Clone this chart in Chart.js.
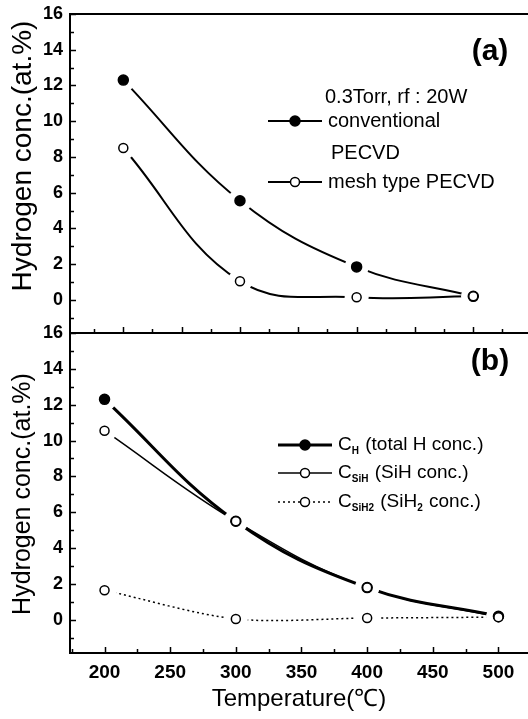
<!DOCTYPE html>
<html lang="en">
<head>
<meta charset="UTF-8">
<title>Hydrogen concentration vs temperature</title>
<script src="https://cdn.jsdelivr.net/npm/chart.js"></script>
<style>
  body { margin: 0; background: #fff; overflow: hidden; }
  #wrap { position: relative; width: 528px; height: 719px; }
  #wrap canvas { position: absolute; left: 0; top: 0; }
</style>
</head>
<body>
<div id="wrap">
  <canvas id="chartA" width="528" height="719"></canvas>
  <canvas id="chartB" width="528" height="719"></canvas>
</div>
<script>
// panel (a): conventional vs mesh type PECVD
const tempsA = [200, 300, 400, 500];
const conventional = [12.3, 5.55, 1.85, 0.2];
const meshType = [8.5, 1.05, 0.15, 0.2];

// panel (b): total H, SiH and SiH2 concentrations
const tempsB = [200, 300, 400, 500];
const cTotal = [12.3, 5.5, 1.8, 0.2];
const cSiH = [10.55, 5.5, 1.8, 0.15];
const cSiH2 = [1.65, 0.05, 0.1, 0.15];

const yTickLabels = [0, 2, 4, 6, 8, 10, 12, 14, 16];
const xTickLabels = [200, 250, 300, 350, 400, 450, 500];

const FONT = "'Liberation Sans', Arial, Helvetica, sans-serif";
Chart.defaults.font.family = FONT;
Chart.defaults.color = '#000';

// line + white halo (gap round the marker) + marker
function series(xs, ys, line, marker) {
  const pts = xs.map((x, i) => ({ x: x, y: ys[i] }));
  return [
    Object.assign({ data: pts, pointRadius: 0, borderColor: '#000', borderWidth: 2, tension: 0.4, fill: false, order: 3 }, line),
    { data: pts, showLine: false, pointRadius: 12, pointBackgroundColor: '#fff', pointBorderColor: '#fff', pointBorderWidth: 0, order: 2 },
    Object.assign({ data: pts, showLine: false, pointRadius: 5, pointBorderColor: '#000', pointBorderWidth: 1.5, order: 1 }, marker)
  ];
}
const filled = { pointBackgroundColor: '#000' };
const open = { pointBackgroundColor: '#fff', pointRadius: 4.5 };

// inward ticks, top border, y title, panel letter
const frame = {
  id: 'frame',
  afterDraw(chart, args, o) {
    const { ctx, chartArea: a, scales: { x, y } } = chart;
    ctx.save();
    ctx.strokeStyle = '#000';
    ctx.lineWidth = 1.5;
    ctx.beginPath();
    for (let v = Math.ceil(y.min); v <= y.max; v++) {
      const py = Math.round(y.getPixelForValue(v)) + 0.5;
      ctx.moveTo(a.left, py);
      ctx.lineTo(a.left + (v % 2 === 0 ? 6 : 4), py);
    }
    for (let v = 175; v <= x.max; v += 25) {
      const px = Math.round(x.getPixelForValue(v)) + 0.5;
      ctx.moveTo(px, a.bottom);
      ctx.lineTo(px, a.bottom - (v % 50 === 0 ? 6 : 4));
    }
    ctx.stroke();
    if (o.topBorder) {
      ctx.lineWidth = 2;
      ctx.beginPath();
      ctx.moveTo(a.left, a.top);
      ctx.lineTo(a.right, a.top);
      ctx.stroke();
    }
    ctx.fillStyle = '#000';
    ctx.translate(o.titleX, o.titleY);
    ctx.rotate(-Math.PI / 2);
    ctx.textAlign = 'center';
    ctx.textBaseline = 'middle';
    ctx.font = o.titleSize + 'px ' + FONT;
    ctx.fillText('Hydrogen conc.(at.%)', 0, 0);
    ctx.setTransform(1, 0, 0, 1, 0, 0);
    ctx.font = 'bold 30px ' + FONT;
    ctx.fillText(o.letter, 490, o.letterY);
    ctx.restore();
  }
};

function legendSymbol(ctx, x0, x1, y, width, dash, fill) {
  ctx.save();
  ctx.lineWidth = width;
  ctx.setLineDash(dash);
  ctx.beginPath();
  ctx.moveTo(x0, y);
  ctx.lineTo(x1, y);
  ctx.stroke();
  ctx.setLineDash([]);
  ctx.lineWidth = 1.5;
  ctx.beginPath();
  ctx.arc((x0 + x1) / 2, y, fill ? 5 : 4.5, 0, Math.PI * 2);
  ctx.fillStyle = fill ? '#000' : '#fff';
  ctx.fill();
  ctx.stroke();
  ctx.restore();
}

// text with subscripts: parts = [[text, isSub], ...]
function subText(ctx, x, y, parts, size) {
  parts.forEach(p => {
    ctx.font = (p[1] ? 'bold ' + Math.round(size * 0.55) : size) + 'px ' + FONT;
    ctx.fillText(p[0], x, p[1] ? y + 6 : y);
    x += ctx.measureText(p[0]).width + (p[1] ? 1 : 0);
  });
}

const legendA = {
  id: 'legendA',
  afterDraw(chart) {
    const ctx = chart.ctx;
    ctx.save();
    ctx.fillStyle = '#000';
    ctx.strokeStyle = '#000';
    ctx.textAlign = 'left';
    ctx.textBaseline = 'middle';
    ctx.font = '20px ' + FONT;
    ctx.fillText('0.3Torr, rf : 20W', 325, 97);
    legendSymbol(ctx, 268, 322, 121, 2, [], true);
    ctx.fillText('conventional', 328, 121);
    ctx.fillText('PECVD', 331, 153);
    legendSymbol(ctx, 268, 322, 182, 2, [], false);
    ctx.fillText('mesh type PECVD', 328, 182);
    ctx.restore();
  }
};

const legendB = {
  id: 'legendB',
  afterDraw(chart) {
    const ctx = chart.ctx;
    ctx.save();
    ctx.fillStyle = '#000';
    ctx.strokeStyle = '#000';
    ctx.textAlign = 'left';
    ctx.textBaseline = 'middle';
    legendSymbol(ctx, 278, 332, 445, 3, [], true);
    subText(ctx, 338, 445, [['C', false], ['H', true], [' (total H conc.)', false]], 19);
    legendSymbol(ctx, 278, 332, 473, 1.5, [], false);
    subText(ctx, 338, 473, [['C', false], ['SiH', true], [' (SiH conc.)', false]], 19);
    legendSymbol(ctx, 278, 332, 502, 1.5, [2, 3], false);
    subText(ctx, 338, 502, [['C', false], ['SiH2', true], [' (SiH', false], ['2', true], [' conc.)', false]], 19);
    ctx.restore();
  }
};

function yScale(labels) {
  return {
    min: -1.85, max: 16,
    afterFit: s => { s.width = 70; s.paddingTop = 0; s.paddingBottom = 0; },
    afterBuildTicks: s => { s.ticks = labels.map(v => ({ value: v })); },
    grid: { display: false, drawTicks: false },
    border: { display: true, color: '#000', width: 2 },
    ticks: { padding: 7, font: { size: 18, weight: 'bold' } }
  };
}

new Chart(document.getElementById('chartA'), {
  type: 'line',
  data: {
    datasets: [].concat(
      series(tempsA, conventional, {}, filled),
      series(tempsA, meshType, {}, Object.assign({ order: 0 }, open))
    )
  },
  options: {
    responsive: false,
    animation: false,
    events: [],
    layout: { autoPadding: false, padding: { top: 14, bottom: 386, left: 0, right: 0 } },
    scales: {
      x: {
        type: 'linear', min: 154.3, max: 546.9,
        afterFit: s => { s.height = 0; s.paddingLeft = 0; s.paddingRight = 0; },
        grid: { display: false, drawTicks: false },
        border: { display: true, color: '#000', width: 2 },
        ticks: { display: false }
      },
      y: yScale(yTickLabels)
    },
    plugins: {
      legend: { display: false },
      tooltip: { enabled: false },
      frame: { topBorder: true, titleX: 23, titleY: 156, titleSize: 28, letter: '(a)', letterY: 52 }
    }
  },
  plugins: [frame, legendA]
});

new Chart(document.getElementById('chartB'), {
  type: 'line',
  data: {
    datasets: [].concat(
      series(tempsB, cTotal, { borderWidth: 3, order: 4 }, Object.assign({ order: 1 }, filled)),
      series(tempsB, cSiH, { borderWidth: 1.5 }, Object.assign({ order: 0 }, open)),
      series(tempsB, cSiH2, { borderWidth: 1.5, borderDash: [2, 3], tension: 0.3 }, Object.assign({ order: 0 }, open))
    )
  },
  options: {
    responsive: false,
    animation: false,
    events: [],
    layout: { autoPadding: false, padding: { top: 333, bottom: 0, left: 0, right: 0 } },
    scales: {
      x: {
        type: 'linear', min: 173.7, max: 522.5,
        afterFit: s => { s.height = 66; s.paddingLeft = 0; s.paddingRight = 0; },
        afterBuildTicks: s => { s.ticks = xTickLabels.map(v => ({ value: v })); },
        grid: { display: false, drawTicks: false },
        border: { display: true, color: '#000', width: 2 },
        ticks: { padding: 8, maxRotation: 0, font: { size: 19, weight: 'bold' } },
        title: { display: true, text: 'Temperature(\u2103)', padding: 5, font: { size: 24 } }
      },
      y: yScale(yTickLabels)
    },
    plugins: {
      legend: { display: false },
      tooltip: { enabled: false },
      frame: { topBorder: false, titleX: 23, titleY: 494, titleSize: 25, letter: '(b)', letterY: 362 }
    }
  },
  plugins: [frame, legendB]
});
</script>
</body>
</html>
